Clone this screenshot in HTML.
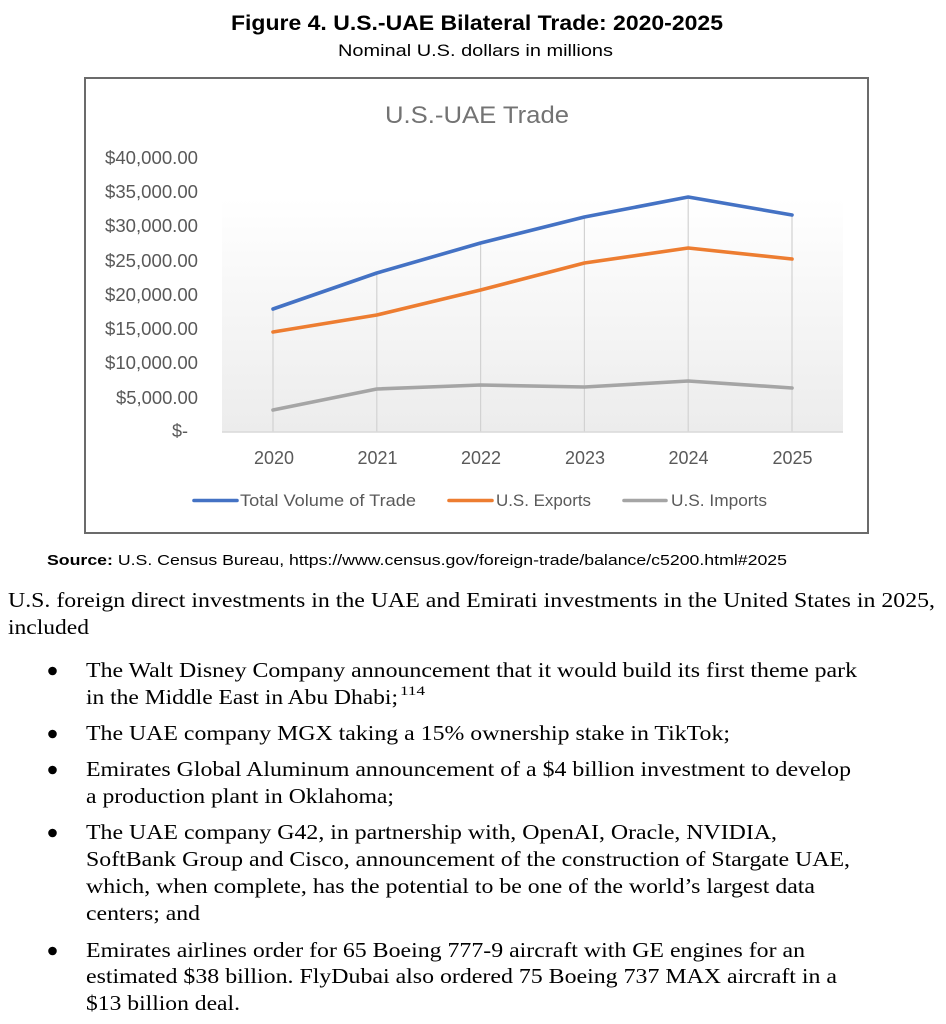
<!DOCTYPE html>
<html><head><meta charset="utf-8"><style>
html,body{margin:0;padding:0;background:#fff;}
svg{display:block;}
</style></head><body>
<svg width="946" height="1024" viewBox="0 0 946 1024" xmlns="http://www.w3.org/2000/svg">
<defs>
<linearGradient id="pg" x1="0" y1="0" x2="0" y2="1">
<stop offset="0" stop-color="#ffffff"/>
<stop offset="0.15" stop-color="#ffffff"/>
<stop offset="1" stop-color="#ececec"/>
</linearGradient>
</defs>
<!-- Header -->
<text x="231" y="30" font-family="Liberation Sans, sans-serif" font-weight="bold" font-size="21" fill="#000" textLength="492" lengthAdjust="spacingAndGlyphs">Figure 4. U.S.-UAE Bilateral Trade: 2020-2025</text>
<text x="338" y="56" font-family="Liberation Sans, sans-serif" font-size="17" fill="#000" textLength="275" lengthAdjust="spacingAndGlyphs">Nominal U.S. dollars in millions</text>

<!-- Chart box -->
<rect x="85" y="78" width="783" height="455" fill="#fff" stroke="#6b6b6b" stroke-width="2"/>
<text x="385" y="123" font-family="Liberation Sans, sans-serif" font-size="24" fill="#737373" textLength="184" lengthAdjust="spacingAndGlyphs">U.S.-UAE  Trade</text>

<!-- plot area -->
<rect x="222" y="157" width="621" height="275" fill="url(#pg)"/>

<!-- drop lines -->
<g stroke="#d2d2d2" stroke-width="1.2">
<line x1="273" y1="432" x2="273" y2="309"/>
<line x1="376.8" y1="432" x2="376.8" y2="273"/>
<line x1="480.6" y1="432" x2="480.6" y2="243"/>
<line x1="584.4" y1="432" x2="584.4" y2="217"/>
<line x1="688.2" y1="432" x2="688.2" y2="197"/>
<line x1="792" y1="432" x2="792" y2="215"/>
</g>
<line x1="222" y1="432" x2="843" y2="432" stroke="#d9d9d9" stroke-width="1.5"/>

<!-- y labels -->
<g font-family="Liberation Sans, sans-serif" font-size="18" fill="#595959" text-anchor="end">
<text x="198" y="164" textLength="93" lengthAdjust="spacingAndGlyphs">$40,000.00</text>
<text x="198" y="198" textLength="93" lengthAdjust="spacingAndGlyphs">$35,000.00</text>
<text x="198" y="232" textLength="93" lengthAdjust="spacingAndGlyphs">$30,000.00</text>
<text x="198" y="267" textLength="93" lengthAdjust="spacingAndGlyphs">$25,000.00</text>
<text x="198" y="301" textLength="93" lengthAdjust="spacingAndGlyphs">$20,000.00</text>
<text x="198" y="335" textLength="93" lengthAdjust="spacingAndGlyphs">$15,000.00</text>
<text x="198" y="369" textLength="93" lengthAdjust="spacingAndGlyphs">$10,000.00</text>
<text x="198" y="404" textLength="82" lengthAdjust="spacingAndGlyphs">$5,000.00</text>
<text x="188" y="437" textLength="16" lengthAdjust="spacingAndGlyphs">$-</text>
</g>

<!-- x labels -->
<g font-family="Liberation Sans, sans-serif" font-size="18" fill="#595959" text-anchor="middle">
<text x="274" y="464" textLength="40" lengthAdjust="spacingAndGlyphs">2020</text>
<text x="377.5" y="464" textLength="40" lengthAdjust="spacingAndGlyphs">2021</text>
<text x="481" y="464" textLength="40" lengthAdjust="spacingAndGlyphs">2022</text>
<text x="585" y="464" textLength="40" lengthAdjust="spacingAndGlyphs">2023</text>
<text x="688.5" y="464" textLength="40" lengthAdjust="spacingAndGlyphs">2024</text>
<text x="792.5" y="464" textLength="40" lengthAdjust="spacingAndGlyphs">2025</text>
</g>

<!-- series -->
<g fill="none" stroke-width="3.6" stroke-linejoin="round" stroke-linecap="round">
<polyline stroke="#A5A5A5" points="273,410 376.8,389 480.6,385 584.4,387 688.2,381 792,388"/>
<polyline stroke="#ED7D31" points="273,332 376.8,315 480.6,290 584.4,263 688.2,248 792,259"/>
<polyline stroke="#4472C4" points="273,309 376.8,273 480.6,243 584.4,217 688.2,197 792,215"/>
</g>

<!-- legend -->
<g stroke-width="3.6" stroke-linecap="round">
<line x1="194" y1="500.5" x2="237" y2="500.5" stroke="#4472C4"/>
<line x1="449" y1="500.5" x2="492" y2="500.5" stroke="#ED7D31"/>
<line x1="624" y1="500.5" x2="666" y2="500.5" stroke="#A5A5A5"/>
</g>
<g font-family="Liberation Sans, sans-serif" font-size="17" fill="#595959">
<text x="240" y="506" textLength="176" lengthAdjust="spacingAndGlyphs">Total Volume of Trade</text>
<text x="496" y="506" textLength="95" lengthAdjust="spacingAndGlyphs">U.S. Exports</text>
<text x="671" y="506" textLength="96" lengthAdjust="spacingAndGlyphs">U.S. Imports</text>
</g>

<!-- source -->
<text x="47" y="565" font-family="Liberation Sans, sans-serif" font-size="15" fill="#000" textLength="740" lengthAdjust="spacingAndGlyphs"><tspan font-weight="bold">Source:</tspan> U.S. Census Bureau, https://www.census.gov/foreign-trade/balance/c5200.html#2025</text>

<!-- body -->
<g font-family="Liberation Serif, serif" font-size="21" fill="#000">
<text x="8" y="607" textLength="927" lengthAdjust="spacingAndGlyphs">U.S. foreign direct investments in the UAE and Emirati investments in the United States in 2025,</text>
<text x="8" y="634" textLength="81" lengthAdjust="spacingAndGlyphs">included</text>

<text x="86" y="677" textLength="771" lengthAdjust="spacingAndGlyphs">The Walt Disney Company announcement that it would build its first theme park</text>
<text x="86" y="704" textLength="312" lengthAdjust="spacingAndGlyphs">in the Middle East in Abu Dhabi;</text>
<text x="400" y="695" font-size="13" textLength="25" lengthAdjust="spacingAndGlyphs">114</text>

<text x="86" y="740" textLength="644" lengthAdjust="spacingAndGlyphs">The UAE company MGX taking a 15% ownership stake in TikTok;</text>

<text x="86" y="776" textLength="765" lengthAdjust="spacingAndGlyphs">Emirates Global Aluminum announcement of a $4 billion investment to develop</text>
<text x="86" y="803" textLength="308" lengthAdjust="spacingAndGlyphs">a production plant in Oklahoma;</text>

<text x="86" y="839" textLength="691" lengthAdjust="spacingAndGlyphs">The UAE company G42, in partnership with, OpenAI, Oracle, NVIDIA,</text>
<text x="86" y="866" textLength="764" lengthAdjust="spacingAndGlyphs">SoftBank Group and Cisco, announcement of the construction of Stargate UAE,</text>
<text x="86" y="893" textLength="729" lengthAdjust="spacingAndGlyphs">which, when complete, has the potential to be one of the world’s largest data</text>
<text x="86" y="920" textLength="114" lengthAdjust="spacingAndGlyphs">centers; and</text>

<text x="86" y="957" textLength="719" lengthAdjust="spacingAndGlyphs">Emirates airlines order for 65 Boeing 777-9 aircraft with GE engines for an</text>
<text x="86" y="983" textLength="751" lengthAdjust="spacingAndGlyphs">estimated $38 billion. FlyDubai also ordered 75 Boeing 737 MAX aircraft in a</text>
<text x="86" y="1010" textLength="154" lengthAdjust="spacingAndGlyphs">$13 billion deal.</text>
</g>
<g fill="#000">
<circle cx="52.5" cy="671" r="4.3"/>
<circle cx="52.5" cy="734" r="4.3"/>
<circle cx="52.5" cy="770" r="4.3"/>
<circle cx="52.5" cy="833" r="4.3"/>
<circle cx="52.5" cy="951" r="4.3"/>
</g>
</svg>
</body></html>
